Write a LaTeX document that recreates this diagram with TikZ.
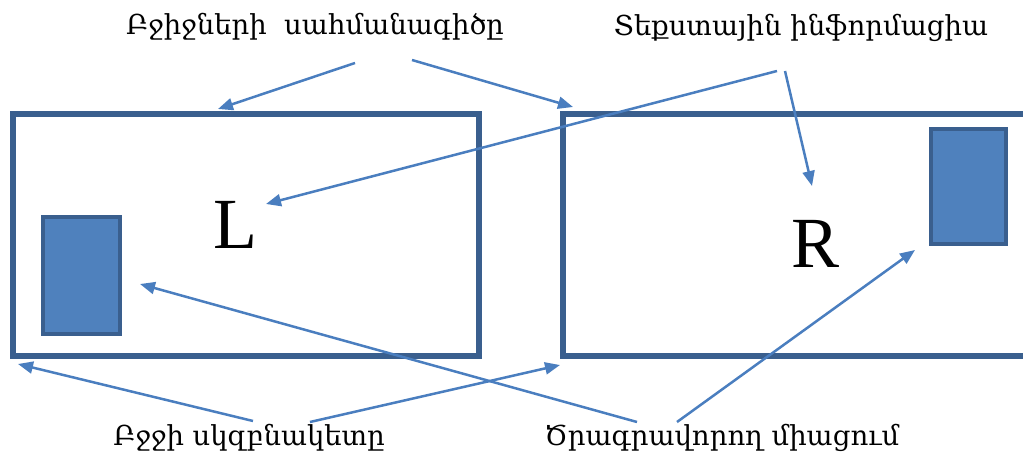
\documentclass[tikz,border=0pt]{standalone}
\usepackage{fontspec}
\newfontfamily\armfont{DejaVu Serif}
\setmainfont{Liberation Serif}
\usetikzlibrary{arrows.meta}

\definecolor{edgeblue}{HTML}{3A5F8E}
\definecolor{fillblue}{HTML}{4F81BD}
\definecolor{arrowblue}{HTML}{4A7EBF}

\begin{document}
\begin{tikzpicture}[
    x=1pt, y=-1pt,
    cell/.style={draw=edgeblue, line width=5.5pt, minimum width=466pt, minimum height=242pt, inner sep=0pt},
    block/.style={draw=edgeblue, fill=fillblue, line width=4pt, inner sep=0pt},
    label/.style={font=\armfont\fontsize{27.5}{32}\selectfont, inner sep=0pt},
    letter/.style={font=\fontsize{72}{80}\selectfont, inner sep=0pt},
    arrow/.style={-{Triangle[length=15pt,width=12pt]}, line width=2.5pt, arrowblue}
]
\useasboundingbox (0,0) rectangle (1023,457);
% frames and blocks
\node[cell] (left) at (246,235) {};
\node[cell] (right) at (796,235) {};
\node[block, minimum width=77pt, minimum height=117pt] (lblock) at (81.5,275.5) {};
\node[block, minimum width=75pt, minimum height=115pt] (rblock) at (968,187) {};
\node[letter, anchor=base] (lL) at (235,248) {L};
\node[letter, anchor=base] (lR) at (816,267) {R};
% labels
\node[label] (border) at (315,27) {Բջիջների\ \ սահմանագիծը};
\node[label] (text) at (801,28) {Տեքստային ինֆորմացիա};
\node[label] (origin) at (249,438) {Բջջի սկզբնակետը};
\node[label] (link) at (722,438) {Ծրագրավորող միացում};
% arrow ends
\coordinate (b1) at (355,63);  \coordinate (b1h) at (218,109);
\coordinate (b2) at (412,60);  \coordinate (b2h) at (573,107);
\coordinate (t1) at (777,71);  \coordinate (t1h) at (266,204);
\coordinate (t2) at (785,71);  \coordinate (t2h) at (812,186);
\coordinate (o1) at (253,421); \coordinate (o1h) at (18,364);
\coordinate (o2) at (310,422); \coordinate (o2h) at (560,365);
\coordinate (k1) at (637,422); \coordinate (k1h) at (140,284);
\coordinate (k2) at (677,422); \coordinate (k2h) at (915,250);
\draw[arrow] (b1) -- (b1h);
\draw[arrow] (b2) -- (b2h);
\draw[arrow] (t1) -- (t1h);
\draw[arrow] (t2) -- (t2h);
\draw[arrow] (o1) -- (o1h);
\draw[arrow] (o2) -- (o2h);
\draw[arrow] (k1) -- (k1h);
\draw[arrow] (k2) -- (k2h);
\end{tikzpicture}
\end{document}
